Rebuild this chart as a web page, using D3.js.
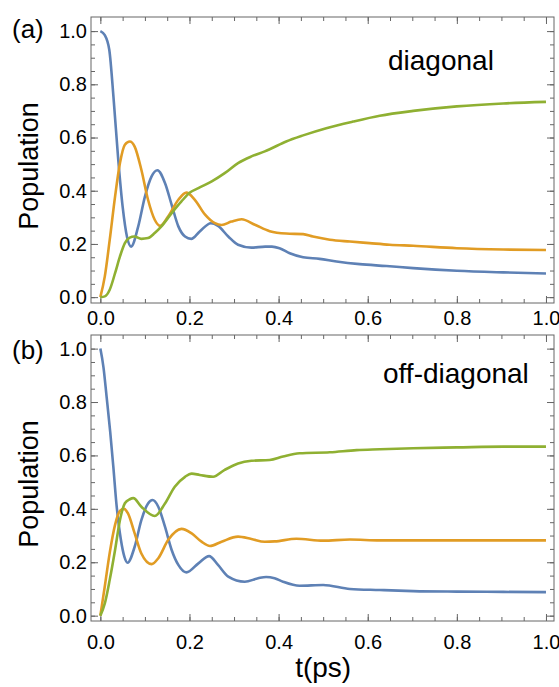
<!DOCTYPE html>
<html>
<head>
<meta charset="utf-8">
<script src="https://cdnjs.cloudflare.com/ajax/libs/d3/7.8.5/d3.min.js"></script>
<style>
  body { margin: 0; background: #fff; }
  svg { display: block; font-family: "Liberation Sans", Arial, Helvetica, sans-serif; }
</style>
</head>
<body>
<svg id="chart" width="559" height="687"></svg>
<script>
// tick labels
const xTicks = [0, 0.2, 0.4, 0.6, 0.8, 1.0];
const yTicks = [0, 0.2, 0.4, 0.6, 0.8, 1.0];

const colors = ["#5E81B5", "#E19C24", "#8FB032"];

// (a) diagonal  -- [t (ps), population]
const diagBlue = [[0,1.0],[0.01,0.985],[0.02,0.93],[0.03,0.74],[0.04,0.52],[0.05,0.34],[0.06,0.225],[0.069,0.19],
  [0.085,0.266],[0.1,0.378],[0.115,0.454],[0.128,0.477],[0.145,0.429],[0.16,0.347],[0.175,0.266],[0.19,0.228],
  [0.204,0.219],[0.223,0.247],[0.248,0.278],[0.264,0.268],[0.287,0.228],[0.309,0.197],[0.339,0.186],[0.37,0.19],
  [0.385,0.19],[0.402,0.184],[0.425,0.165],[0.455,0.15],[0.492,0.144],[0.53,0.134],[0.582,0.124],[0.642,0.117],
  [0.702,0.109],[0.8,0.099],[0.904,0.093],[1.0,0.089]];
const diagOrange = [[0,0],[0.01,0.078],[0.021,0.215],[0.033,0.378],[0.044,0.504],[0.055,0.573],[0.066,0.585],
  [0.077,0.566],[0.092,0.479],[0.107,0.366],[0.122,0.291],[0.134,0.268],[0.152,0.303],[0.175,0.366],[0.193,0.393],
  [0.212,0.366],[0.235,0.31],[0.257,0.278],[0.272,0.271],[0.294,0.284],[0.317,0.293],[0.347,0.272],[0.38,0.248],
  [0.417,0.239],[0.455,0.237],[0.477,0.228],[0.515,0.216],[0.56,0.209],[0.604,0.203],[0.649,0.197],[0.702,0.193],
  [0.8,0.184],[0.904,0.179],[1.0,0.177]];
const diagGreen = [[0,0],[0.01,0.003],[0.021,0.028],[0.033,0.09],[0.044,0.153],[0.055,0.203],[0.066,0.224],
  [0.076,0.228],[0.092,0.219],[0.107,0.222],[0.122,0.241],[0.137,0.266],[0.16,0.316],[0.182,0.36],[0.201,0.393],
  [0.22,0.41],[0.25,0.435],[0.279,0.466],[0.309,0.504],[0.339,0.529],[0.369,0.548],[0.38,0.556],[0.417,0.585],
  [0.455,0.608],[0.507,0.635],[0.567,0.66],[0.627,0.682],[0.702,0.7],[0.8,0.717],[0.904,0.728],[1.0,0.734]];

// (b) off-diagonal
const offBlue = [[0,1.0],[0.007,0.93],[0.014,0.82],[0.022,0.69],[0.029,0.56],[0.036,0.42],[0.046,0.285],[0.054,0.22],
  [0.061,0.198],[0.077,0.258],[0.092,0.358],[0.107,0.42],[0.117,0.433],[0.13,0.408],[0.145,0.333],[0.16,0.246],
  [0.175,0.19],[0.193,0.162],[0.22,0.196],[0.244,0.223],[0.264,0.19],[0.287,0.146],[0.324,0.127],[0.354,0.14],
  [0.372,0.145],[0.391,0.14],[0.41,0.127],[0.447,0.112],[0.5,0.115],[0.56,0.1],[0.627,0.096],[0.702,0.092],
  [0.8,0.09],[0.904,0.089],[1.0,0.088]];
const offOrange = [[0,0],[0.01,0.11],[0.021,0.235],[0.033,0.34],[0.044,0.392],[0.053,0.4],[0.062,0.383],[0.077,0.308],
  [0.092,0.233],[0.115,0.193],[0.13,0.215],[0.152,0.283],[0.182,0.325],[0.205,0.308],[0.227,0.277],[0.246,0.261],
  [0.272,0.277],[0.309,0.296],[0.339,0.287],[0.369,0.277],[0.391,0.278],[0.44,0.288],[0.5,0.281],[0.56,0.285],
  [0.627,0.282],[0.8,0.282],[1.0,0.282]];
const offGreen = [[0,0],[0.01,0.046],[0.021,0.134],[0.033,0.246],[0.044,0.358],[0.055,0.421],[0.066,0.436],
  [0.074,0.44],[0.092,0.408],[0.122,0.373],[0.145,0.42],[0.167,0.483],[0.19,0.52],[0.205,0.532],[0.223,0.527],
  [0.253,0.52],[0.279,0.546],[0.309,0.57],[0.339,0.58],[0.38,0.583],[0.41,0.596],[0.447,0.608],[0.515,0.612],
  [0.575,0.62],[0.627,0.623],[0.702,0.627],[0.8,0.63],[0.904,0.633],[1.0,0.633]];

const panels = [
  { tag: "(a)", title: "diagonal", series: [diagBlue, diagOrange, diagGreen],
    top: 17, bottom: 303, yDomain: [-0.022, 1.053], xPad: 8, tagY: 38, titleX: 388, titleY: 70 },
  { tag: "(b)", title: "off-diagonal", series: [offBlue, offOrange, offGreen],
    top: 335, bottom: 621, yDomain: [-0.02, 1.051], xPad: 14, tagY: 359, titleX: 383, titleY: 383 }
];

const svg = d3.select("#chart");
const left = 91, right = 554;
const frameColor = "#666";
const minor = d3.range(0, 1.0001, 0.05);

const x = d3.scaleLinear().domain([-0.021, 1.018]).range([left, right]);

panels.forEach(p => {
  const y = d3.scaleLinear().domain(p.yDomain).range([p.bottom, p.top]);
  const g = svg.append("g");

  // minor ticks on all sides
  const minorAxes = [
    [d3.axisBottom(x), `translate(0,${p.bottom})`],
    [d3.axisTop(x), `translate(0,${p.top})`],
    [d3.axisLeft(y), `translate(${left},0)`],
    [d3.axisRight(y), `translate(${right},0)`]
  ];
  minorAxes.forEach(([ax, tr]) => {
    g.append("g").attr("transform", tr)
      .call(ax.tickValues(minor).tickSize(-4).tickFormat(""))
      .call(s => s.select(".domain").remove())
      .selectAll("line").attr("stroke", frameColor);
  });

  // major ticks, labelled bottom/left
  const xb = g.append("g").attr("transform", `translate(0,${p.bottom})`)
    .call(d3.axisBottom(x).tickValues(xTicks).tickSize(-7).tickPadding(p.xPad).tickFormat(d3.format(".1f")));
  const xt = g.append("g").attr("transform", `translate(0,${p.top})`)
    .call(d3.axisTop(x).tickValues(xTicks).tickSize(-7).tickFormat(""));
  const yl = g.append("g").attr("transform", `translate(${left},0)`)
    .call(d3.axisLeft(y).tickValues(yTicks).tickSize(-7).tickPadding(4).tickFormat(d3.format(".1f")));
  const yr = g.append("g").attr("transform", `translate(${right},0)`)
    .call(d3.axisRight(y).tickValues(yTicks).tickSize(-7).tickFormat(""));
  [xb, xt, yl, yr].forEach(a => {
    a.select(".domain").remove();
    a.selectAll("line").attr("stroke", frameColor);
    a.selectAll("text").attr("fill", "#000").style("font-size", "20px")
      .style("font-family", '"Liberation Sans", Arial, sans-serif');
  });

  // frame
  g.append("rect")
    .attr("x", left).attr("y", p.top)
    .attr("width", right - left).attr("height", p.bottom - p.top)
    .attr("fill", "none").attr("stroke", frameColor).attr("stroke-width", 1);

  // curves
  const line = d3.line()
    .x(d => x(d[0]))
    .y(d => y(d[1]))
    .curve(d3.curveMonotoneX);

  p.series.forEach((s, i) => {
    g.append("path")
      .datum(s)
      .attr("fill", "none")
      .attr("stroke", colors[i])
      .attr("stroke-width", 2.6)
      .attr("stroke-linejoin", "round")
      .attr("d", line);
  });

  // y label
  g.append("text")
    .attr("transform", `translate(38,${(p.top + p.bottom) / 2 + 6}) rotate(-90)`)
    .attr("text-anchor", "middle")
    .style("font-size", "27px")
    .text("Population");

  g.append("text")
    .attr("x", 12).attr("y", p.tagY)
    .style("font-size", "26px")
    .text(p.tag);

  g.append("text")
    .attr("x", p.titleX).attr("y", p.titleY)
    .style("font-size", "28px")
    .text(p.title);
});

svg.append("text")
  .attr("x", x(0.5)).attr("y", 677)
  .attr("text-anchor", "middle")
  .style("font-size", "28px")
  .text("t(ps)");
</script>
</body>
</html>
